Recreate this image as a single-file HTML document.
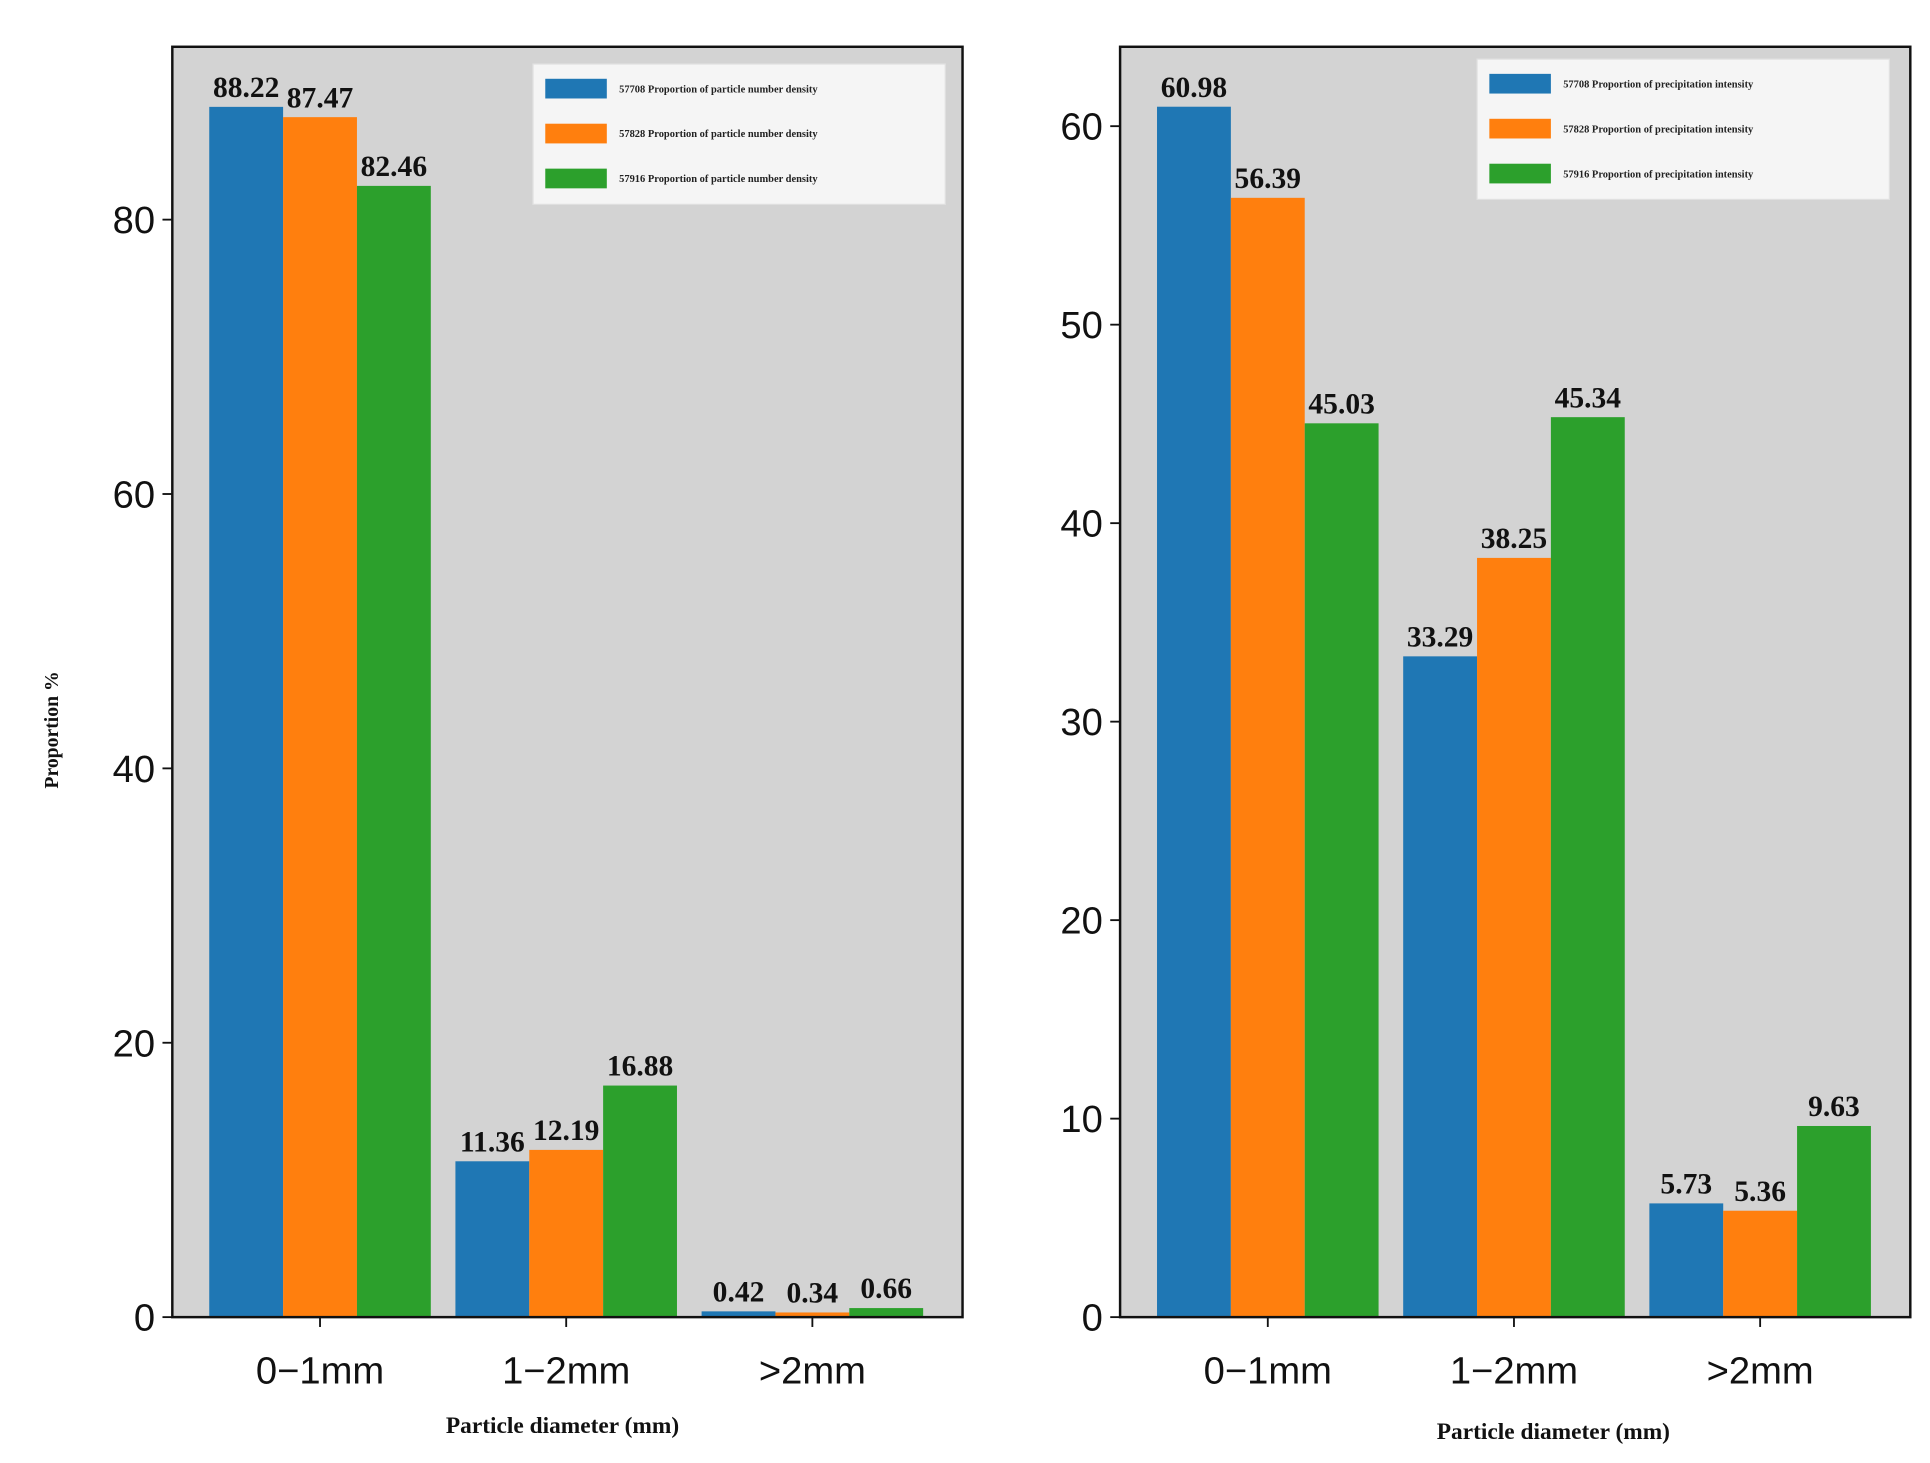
<!DOCTYPE html>
<html><head><meta charset="utf-8"><style>
html,body{margin:0;padding:0;background:#fff;}
svg{display:block;}
.tick{font-family:"Liberation Sans","DejaVu Sans",sans-serif;font-size:31px;fill:#111;}
.val{font-family:"Liberation Serif",serif;font-weight:bold;font-size:24px;fill:#111;}
.ttl{font-family:"Liberation Serif",serif;font-weight:bold;font-size:19px;fill:#111;}
.leg{font-family:"Liberation Serif",serif;font-weight:bold;font-size:8.5px;fill:#222;}
</style></head><body>
<svg id="chart" width="1930" height="1463" viewBox="0 0 1568 1188.5" preserveAspectRatio="none" xmlns="http://www.w3.org/2000/svg"></svg>
<script>
const categories = ["0\u22121mm", "1\u22122mm", ">2mm"];
const stations = ["57708", "57828", "57916"];
const densityValues = [[88.22, 11.36, 0.42], [87.47, 12.19, 0.34], [82.46, 16.88, 0.66]];
const intensityValues = [[60.98, 33.29, 5.73], [56.39, 38.25, 5.36], [45.03, 45.34, 9.63]];
const leftTicks = [0, 20, 40, 60, 80];
const rightTicks = [0, 10, 20, 30, 40, 50, 60];
const colors = ["#1f77b4", "#ff7f0e", "#2ca02c"];

const svg = document.getElementById('chart');
const NS = "http://www.w3.org/2000/svg";
function mk(tag, attrs, parent) {
  const e = document.createElementNS(NS, tag);
  for (const k in attrs) e.setAttribute(k, attrs[k]);
  (parent || svg).appendChild(e);
  return e;
}

function panel(opt) {
  const g = mk('g', {});
  
  
  const L = opt.left, R = opt.right, T = 38, B = 1070;
  const xs = v => L + (v - (-0.6)) / (2.61 - (-0.6)) * (R - L);
  const ys = v => B - v / opt.ymax * (B - T);
  const bg = mk('rect', {x: L, y: T, width: R - L, height: B - T, fill: '#d3d3d3'}, g);
  
  
  const bw = 0.3;
  opt.values.forEach((ser, si) => {
    ser.forEach((v, ci) => {
      const cx = ci + (si - 1) * bw;
      const x0 = xs(cx - bw / 2), x1 = xs(cx + bw / 2);
      const r = mk('rect', {x: x0, y: ys(v), width: x1 - x0, height: ys(0) - ys(v), fill: colors[si]}, g);
      
      
      const t = mk('text', {x: (x0 + x1) / 2, y: ys(v) - 8, 'text-anchor': 'middle', class: 'val'}, g);
      t.textContent = v.toFixed(2);
      
      
    });
  });
  const fr = mk('rect', {x: L, y: T, width: R - L, height: B - T, fill: 'none', stroke: '#111', 'stroke-width': 2}, g);
  
  
  opt.ticks.forEach(tv => {
    mk('line', {x1: L - 8, x2: L, y1: ys(tv), y2: ys(tv), stroke: '#111', 'stroke-width': 1.5}, g);
    const t = mk('text', {x: L - 14, y: ys(tv) + 11, 'text-anchor': 'end', class: 'tick'}, g);
    t.textContent = tv;
    
    
  });
  categories.forEach((c, ci) => {
    mk('line', {x1: xs(ci), x2: xs(ci), y1: B, y2: B + 8, stroke: '#111', 'stroke-width': 1.5}, g);
    const t = mk('text', {x: xs(ci), y: B + 54, 'text-anchor': 'middle', class: 'tick'}, g);
    t.textContent = c;
    
    
  });
  const xt = mk('text', {x: opt.xtx, y: opt.xty, 'text-anchor': 'middle', class: 'ttl'}, g);
  xt.textContent = 'Particle diameter (mm)';
  
  
  // legend
  const lg = mk('g', {}, g);
  
  
  mk('rect', {x: opt.lx, y: opt.ly, width: 335, height: 114, fill: '#f5f5f5', stroke: '#e0e0e0', 'stroke-width': 1}, lg);
  stations.forEach((s, si) => {
    const cy = opt.ly + 20 + si * 36.5;
    const p = mk('rect', {x: opt.lx + 10, y: cy - 8, width: 50, height: 16, fill: colors[si]}, lg);
    
    
    const t = mk('text', {x: opt.lx + 70, y: cy + 3, class: 'leg'}, lg);
    t.textContent = s + ' ' + opt.legText;
    
    
  });
}

panel({name: 'number-density-panel', left: 140, right: 782, ymax: 92.6, values: densityValues, ticks: leftTicks,
  xtx: 457, xty: 1164, lx: 433, ly: 52, legText: 'Proportion of particle number density'});
panel({name: 'precipitation-intensity-panel', left: 910, right: 1552, ymax: 64.0, values: intensityValues, ticks: rightTicks,
  xtx: 1262, xty: 1169, lx: 1200, ly: 48, legText: 'Proportion of precipitation intensity'});

const yt = mk('text', {x: 0, y: 0, 'text-anchor': 'middle', class: 'ttl', transform: 'translate(47,593) rotate(-90)', style: 'font-size:16px'});
yt.textContent = 'Proportion %';


</script>
</body></html>
